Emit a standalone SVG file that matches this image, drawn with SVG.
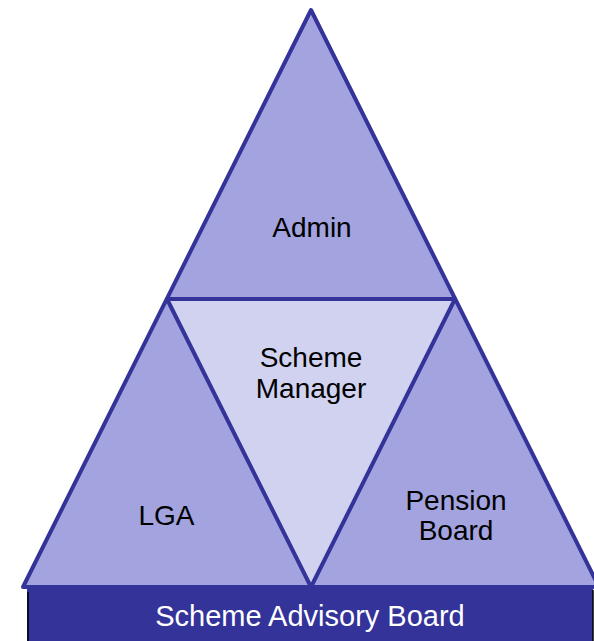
<svg xmlns="http://www.w3.org/2000/svg" width="594" height="641" viewBox="0 0 594 641">
<style>
.outer{fill:#a3a3df;stroke:#333399;stroke-width:4;stroke-linejoin:round}
.inner{fill:#d1d1f0;stroke:#333399;stroke-width:4;stroke-linejoin:round}
.lbl{font-family:"Liberation Sans",Arial,sans-serif;font-size:28px;fill:#000;text-anchor:middle}
.wlbl{font-family:"Liberation Sans",Arial,sans-serif;font-size:29px;fill:#fff;text-anchor:middle}
</style>
<rect width="594" height="641" fill="#fff"/>
<g id="pyramid">
<polygon class="outer" points="311,10 599,587 23,587"/>
</g>
<g id="scheme-manager">
<polygon class="inner" points="167,299 455,299 311,587"/>
<text class="lbl" x="311" y="367">Scheme</text>
<text class="lbl" x="311" y="398">Manager</text>
</g>
<g id="admin">
<text class="lbl" x="312" y="237">Admin</text>
</g>
<g id="lga">
<text class="lbl" x="166.5" y="525">LGA</text>
</g>
<g id="pension-board">
<text class="lbl" x="456" y="510">Pension</text>
<text class="lbl" x="456" y="540">Board</text>
</g>
<g id="scheme-advisory-board">
<rect x="27" y="587" width="566" height="56" fill="#333399"/>
<line x1="28" y1="592" x2="28" y2="641" stroke="#000" stroke-width="1.5"/>
<line x1="593" y1="590" x2="593" y2="641" stroke="#000" stroke-width="1.5"/>
<text class="wlbl" x="310" y="626">Scheme Advisory Board</text>
</g>
<g id="connectors"></g>
</svg>
